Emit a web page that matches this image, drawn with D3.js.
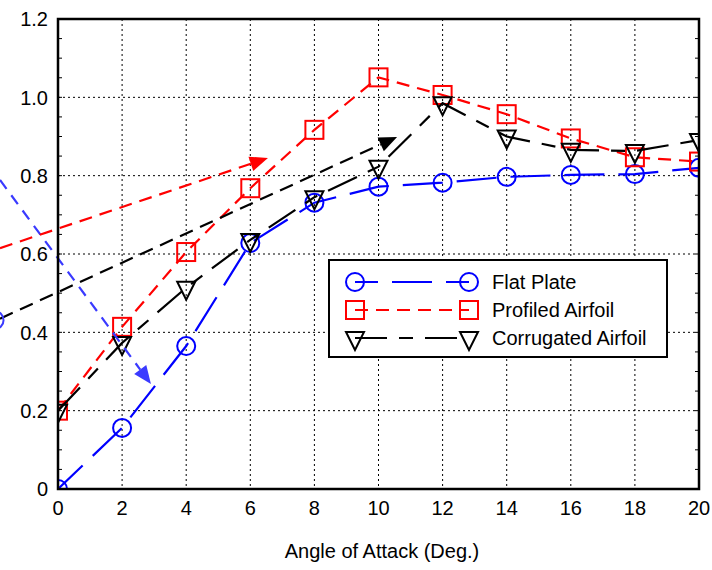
<!DOCTYPE html>
<html>
<head>
<meta charset="utf-8">
<script src="https://cdn.jsdelivr.net/npm/d3@7"></script>
<style>
  body { margin: 0; background: #fff; }
  text { font-family: "Liberation Sans", Arial, sans-serif; fill: #000; }
</style>
</head>
<body>
<div class="chart"></div>
<script>
// values
const angles = [0, 2, 4, 6, 8, 10, 12, 14, 16, 18, 20];
const flatPlate = [0.0, 0.156, 0.365, 0.628, 0.731, 0.772, 0.782, 0.797, 0.802, 0.804, 0.82];
const profiled = [0.2, 0.414, 0.605, 0.768, 0.917, 1.051, 1.006, 0.957, 0.895, 0.847, 0.836];
const corrugated = [0.2, 0.373, 0.514, 0.636, 0.745, 0.823, 0.985, 0.9, 0.866, 0.863, 0.891];
const seriesNames = ["Flat Plate", "Profiled Airfoil", "Corrugated Airfoil"];
const xTicks = [0, 2, 4, 6, 8, 10, 12, 14, 16, 18, 20];
const yTicks = [0, 0.2, 0.4, 0.6, 0.8, 1.0, 1.2];

// dashed arrows (data coordinates, start -> tip)
const arrowFrom = [[-1.81, 0.789], [-1.81, 0.615], [-1.81, 0.435]];
const arrowTo = [[2.9, 0.268], [6.55, 0.845], [10.58, 0.899]];

const W = 712, H = 570;
const mLeft = 58, mRight = 699, mTop = 19, mBottom = 489;

const svg = d3.select('.chart')
    .append('svg')
    .attr('width', W)
    .attr('height', H);

const x = d3.scaleLinear().domain([0, 20]).range([mLeft, mRight]);
const y = d3.scaleLinear().domain([0, 1.2]).range([mBottom, mTop]);

// grid
const grid = svg.append('g');
grid.selectAll('.gx')
    .data(xTicks.slice(1, -1))
    .enter().append('line')
    .attr('x1', d => x(d)).attr('x2', d => x(d))
    .attr('y1', mTop).attr('y2', mBottom)
    .attr('stroke', '#000').attr('stroke-width', 1)
    .attr('stroke-dasharray', '2,3');
grid.selectAll('.gy')
    .data(yTicks.slice(1, -1))
    .enter().append('line')
    .attr('x1', mLeft).attr('x2', mRight)
    .attr('y1', d => y(d)).attr('y2', d => y(d))
    .attr('stroke', '#000').attr('stroke-width', 1)
    .attr('stroke-dasharray', '2,3');

// minor ticks on left / right
const minor = d3.range(0, 1.2001, 0.05);
svg.append('g').selectAll('line')
    .data(minor)
    .enter().append('line')
    .attr('x1', mLeft).attr('x2', mLeft + 4)
    .attr('y1', d => y(d)).attr('y2', d => y(d))
    .attr('stroke', '#000').attr('stroke-width', 1);
svg.append('g').selectAll('line')
    .data(minor)
    .enter().append('line')
    .attr('x1', mRight - 4).attr('x2', mRight)
    .attr('y1', d => y(d)).attr('y2', d => y(d))
    .attr('stroke', '#000').attr('stroke-width', 1);

svg.append('clipPath').attr('id', 'plotclip')
    .append('rect')
    .attr('x', mLeft).attr('y', mTop)
    .attr('width', mRight - mLeft).attr('height', mBottom - mTop);

const plot = svg.append('g').attr('clip-path', 'url(#plotclip)');

const series = [
    {name: seriesNames[0], vals: flatPlate, color: '#0000ff', dash: '40,14', offset: 6, marker: 'circle'},
    {name: seriesNames[1], vals: profiled, color: '#ff0000', dash: '13,8', offset: 0, marker: 'square'},
    {name: seriesNames[2], vals: corrugated, color: '#000000', dash: '32,12,14,12', offset: 0, marker: 'tri'}
];

const line = d3.line().x(d => x(d[0])).y(d => y(d[1]));

function drawMarker(g, type, cx, cy, color) {
    if (type === 'circle') {
        g.append('circle').attr('cx', cx).attr('cy', cy).attr('r', 9)
            .attr('fill', 'none').attr('stroke', color).attr('stroke-width', 2);
    } else if (type === 'square') {
        g.append('rect').attr('x', cx - 9).attr('y', cy - 9)
            .attr('width', 18).attr('height', 18)
            .attr('fill', 'none').attr('stroke', color).attr('stroke-width', 2);
    } else {
        g.append('path')
            .attr('d', `M${cx - 9},${cy - 6}L${cx + 9},${cy - 6}L${cx},${cy + 12}Z`)
            .attr('fill', 'none').attr('stroke', color).attr('stroke-width', 2)
            .attr('stroke-linejoin', 'miter');
    }
}

series.forEach(s => {
    const pts = angles.map((a, i) => [a, s.vals[i]]);
    plot.append('path')
        .attr('d', line(pts))
        .attr('fill', 'none')
        .attr('stroke', s.color)
        .attr('stroke-width', 2.2)
        .attr('stroke-dasharray', s.dash)
        .attr('stroke-dashoffset', s.offset);
    pts.forEach(p => drawMarker(plot, s.marker, x(p[0]), y(p[1]), s.color));
});

// annotation arrows
const arrowColors = ['#3a3aff', '#ff0000', '#000000'];
const arrowDash = ['11,8', '13,8', '14,8'];
arrowFrom.forEach((f, i) => {
    const x1 = x(f[0]), y1 = y(f[1]);
    const x2 = x(arrowTo[i][0]), y2 = y(arrowTo[i][1]);
    const ang = Math.atan2(y2 - y1, x2 - x1);
    const len = 18, hw = 7.5;
    const bx = x2 - len * Math.cos(ang), by = y2 - len * Math.sin(ang);
    svg.append('line')
        .attr('x1', x1).attr('y1', y1).attr('x2', bx).attr('y2', by)
        .attr('stroke', arrowColors[i]).attr('stroke-width', 2.2)
        .attr('stroke-dasharray', arrowDash[i]);
    const px = -Math.sin(ang) * hw, py = Math.cos(ang) * hw;
    svg.append('path')
        .attr('d', `M${x2},${y2}L${bx + px},${by + py}L${bx - px},${by - py}Z`)
        .attr('fill', arrowColors[i]);
});

// stray marker cut by the left edge
svg.append('circle')
    .attr('cx', x(-1.98)).attr('cy', y(0.431)).attr('r', 9)
    .attr('fill', 'none').attr('stroke', '#3a3aff').attr('stroke-width', 2);

// frame
svg.append('rect')
    .attr('x', mLeft).attr('y', mTop)
    .attr('width', mRight - mLeft).attr('height', mBottom - mTop)
    .attr('fill', 'none').attr('stroke', '#000').attr('stroke-width', 2.5);

// tick labels
svg.append('g').selectAll('text')
    .data(yTicks)
    .enter().append('text')
    .attr('x', mLeft - 10)
    .attr('y', d => y(d))
    .attr('dy', '0.36em')
    .attr('text-anchor', 'end')
    .style('font-size', '20px')
    .text(d => d === 0 ? '0' : d3.format('.1f')(d));

svg.append('g').selectAll('text')
    .data(xTicks)
    .enter().append('text')
    .attr('x', d => x(d))
    .attr('y', 515)
    .attr('text-anchor', 'middle')
    .style('font-size', '20px')
    .text(d => d);

svg.append('text')
    .attr('x', 382)
    .attr('y', 558)
    .attr('text-anchor', 'middle')
    .style('font-size', '20px')
    .text('Angle of Attack (Deg.)');

// legend
const leg = svg.append('g');
leg.append('rect')
    .attr('x', 329).attr('y', 260).attr('width', 338).attr('height', 97)
    .attr('fill', '#fff').attr('stroke', '#000').attr('stroke-width', 2);
const rowY = [282, 310, 338];
const legOff = [17, 0, 0];
series.forEach((s, i) => {
    leg.append('line')
        .attr('x1', 355).attr('x2', 469)
        .attr('y1', rowY[i]).attr('y2', rowY[i])
        .attr('stroke', s.color).attr('stroke-width', 2.2)
        .attr('stroke-dasharray', s.dash)
        .attr('stroke-dashoffset', legOff[i]);
    drawMarker(leg, s.marker, 355, rowY[i], s.color);
    drawMarker(leg, s.marker, 469, rowY[i], s.color);
    leg.append('text')
        .attr('x', 492).attr('y', rowY[i])
        .attr('dy', '0.36em')
        .style('font-size', '20px')
        .text(s.name);
});
</script>
</body>
</html>
